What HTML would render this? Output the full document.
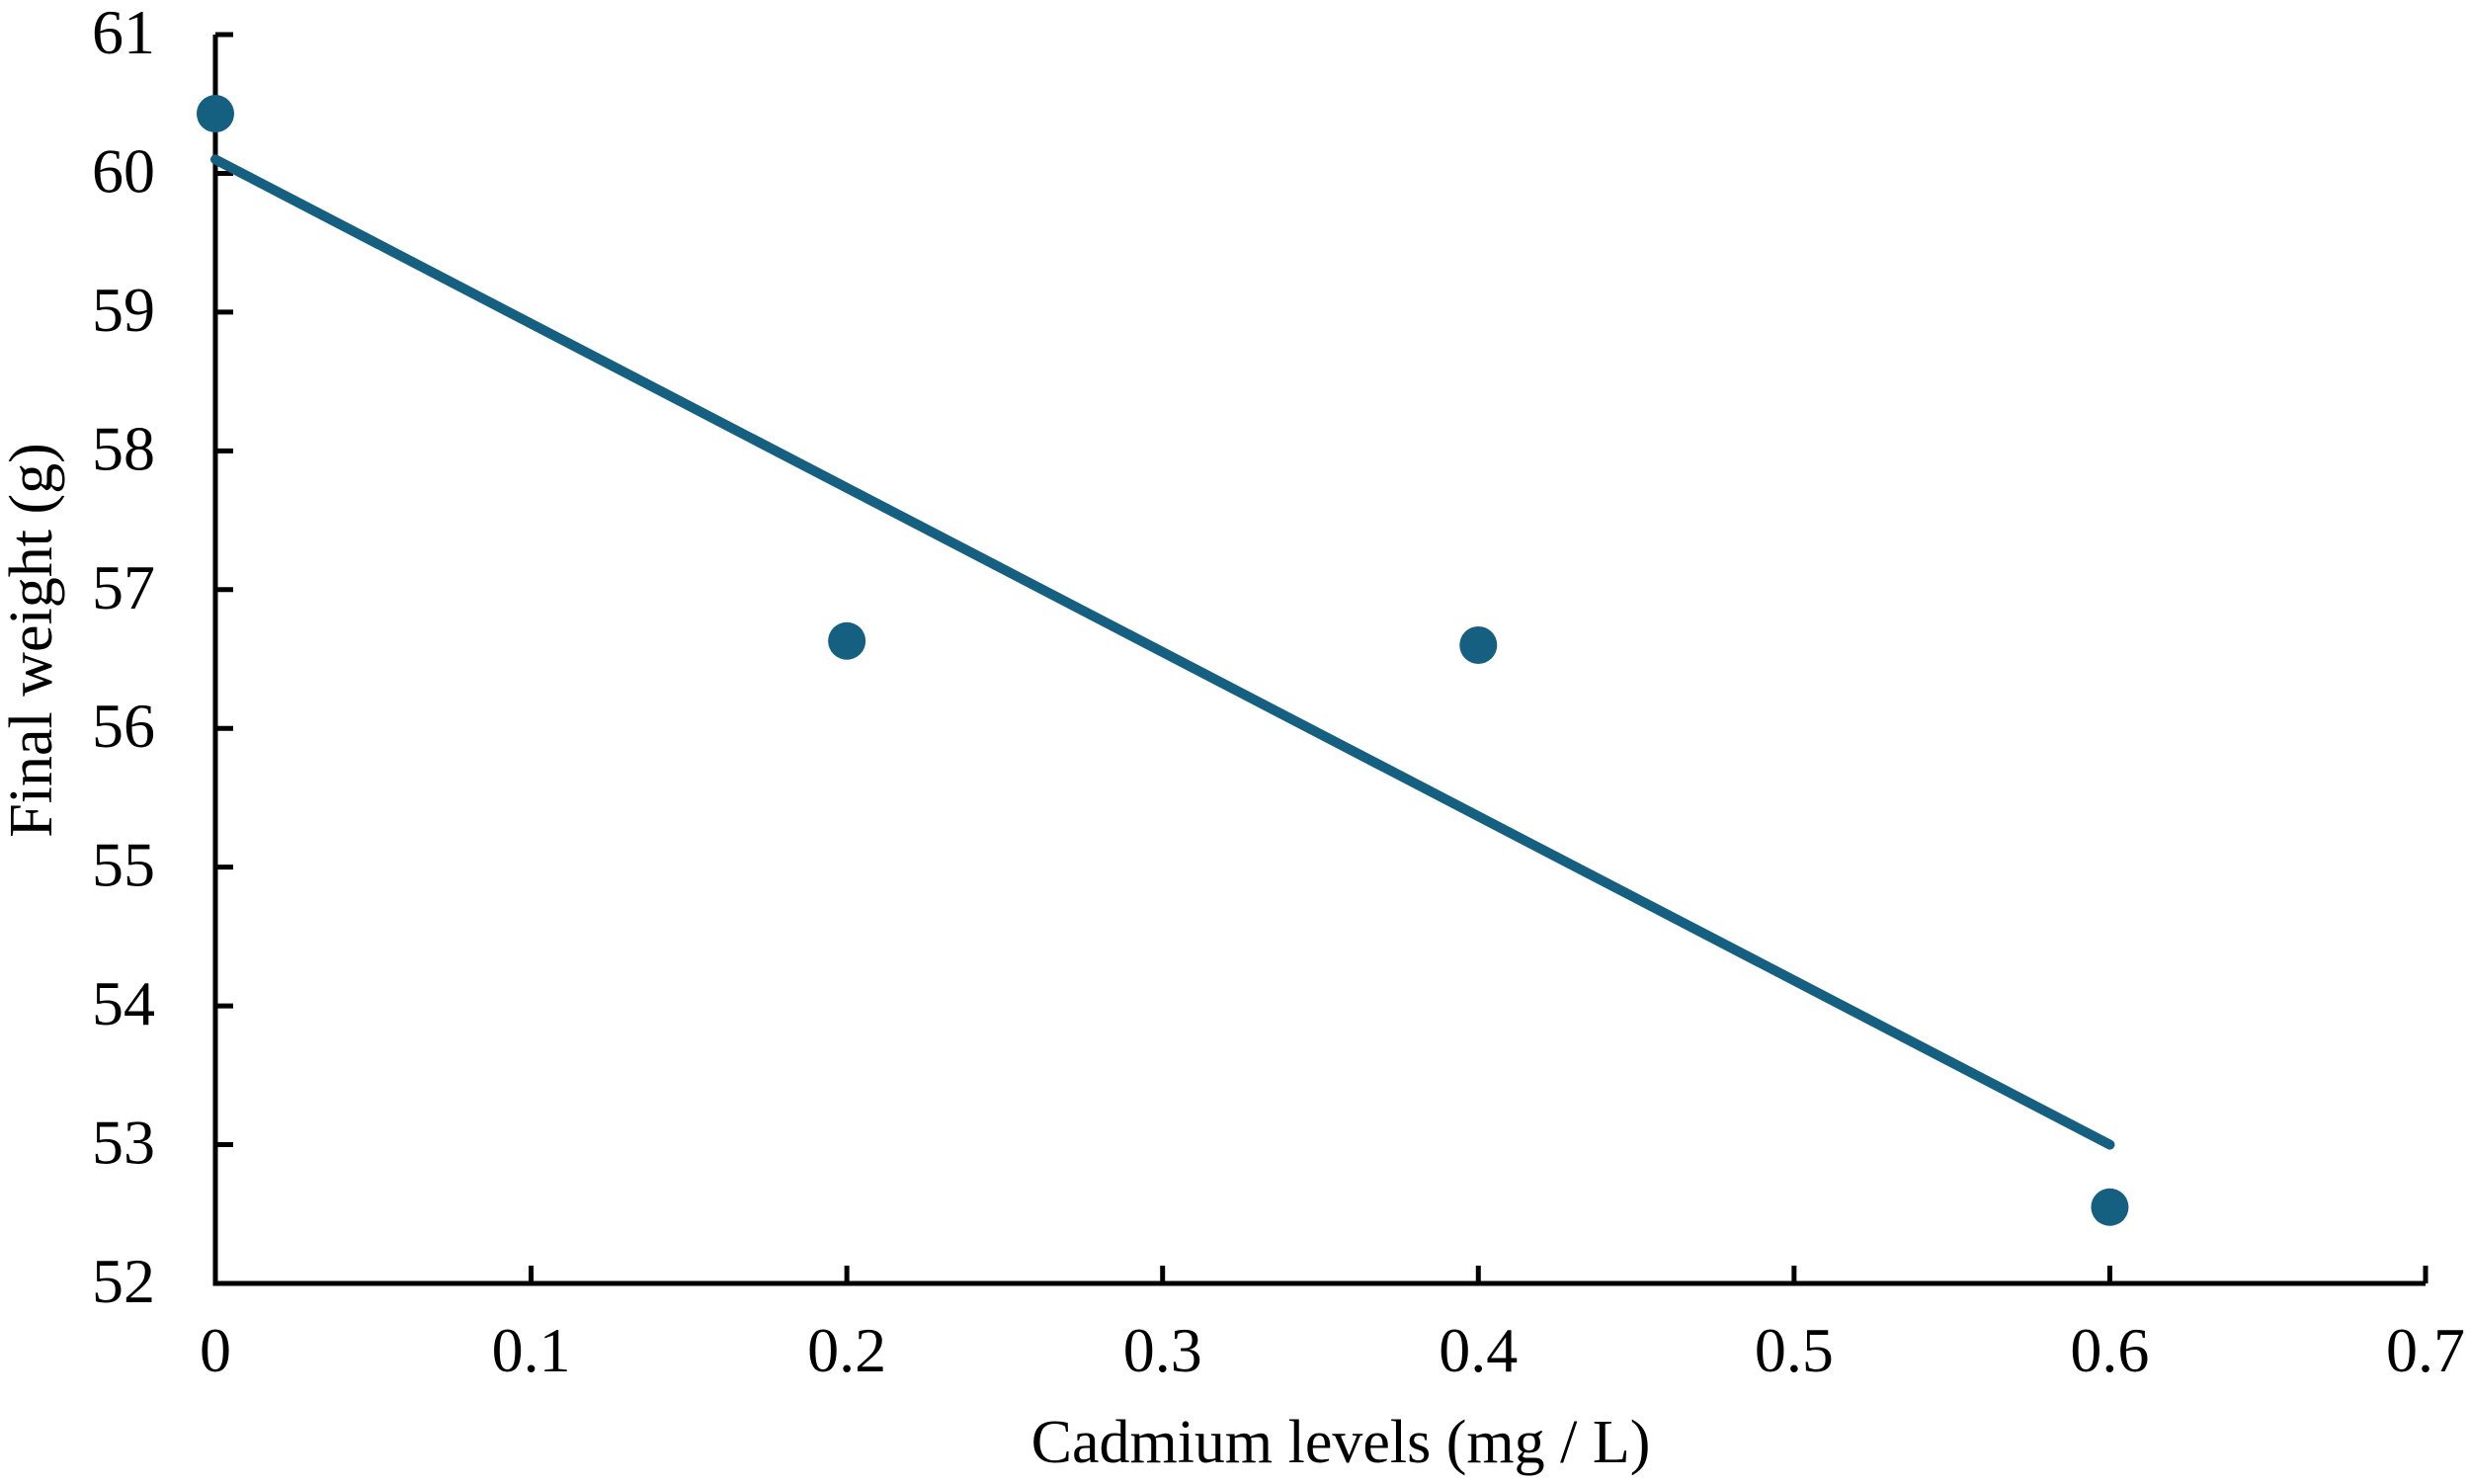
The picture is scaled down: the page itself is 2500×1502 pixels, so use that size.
<!DOCTYPE html>
<html><head><meta charset="utf-8"><style>
html,body{margin:0;padding:0;background:#fff}
svg{display:block;font-family:"Liberation Serif",serif}
</style></head><body>
<svg id="chart" width="2500" height="1502" viewBox="0 0 2500 1502">
<g id="axes"></g>
<g id="marks"></g>
<text x="1357" y="1480" font-size="62" text-anchor="middle">Cadmium levels (mg / L)</text>
<text transform="translate(52,648) rotate(-90)" font-size="62" text-anchor="middle">Final weight (g)</text>
</svg>
<script>
const xTicks=[0,0.1,0.2,0.3,0.4,0.5,0.6,0.7];
const xTickLabels=["0","0.1","0.2","0.3","0.4","0.5","0.6","0.7"];
const yTicks=[52,53,54,55,56,57,58,59,60,61];
const yTickLabels=["52","53","54","55","56","57","58","59","60","61"];
const cadmium=[0,0.2,0.4,0.6];
const weight=[60.43,56.63,56.60,52.55];
const trendX=[0,0.6];
const trendY=[60.1,53.0];
const NS="http://www.w3.org/2000/svg";
const X0=218,X1=2455,Y0=1299,Y1=35;
const xs=v=>X0+(v-0)/(0.7-0)*(X1-X0);
const ys=v=>Y0-(v-52)/(61-52)*(Y0-Y1);
function mk(tag,attrs,parent){const e=document.createElementNS(NS,tag);for(const k in attrs)e.setAttribute(k,attrs[k]);parent.appendChild(e);return e;}
const axes=document.getElementById('axes'),marks=document.getElementById('marks');
let e=mk('path',{d:`M${X0},${Y1} V${Y0} H${X1}`,stroke:'#000','stroke-width':5,fill:'none'},axes);


yTicks.forEach((v,i)=>{
 let t=mk('line',{x1:X0,x2:X0+18,y1:ys(v),y2:ys(v),stroke:'#000','stroke-width':5},axes);
 
 
 let l=mk('text',{x:157,y:ys(v)+19,'font-size':64,'text-anchor':'end'},axes);
 l.textContent=yTickLabels[i];
 
 
});
xTicks.forEach((v,i)=>{
 let t=mk('line',{x1:xs(v),x2:xs(v),y1:Y0,y2:Y0-18,stroke:'#000','stroke-width':5},axes);
 
 
 let l=mk('text',{x:xs(v),y:1388,'font-size':64,'text-anchor':'middle'},axes);
 l.textContent=xTickLabels[i];
 
 
});
let tl=mk('line',{x1:xs(trendX[0]),y1:ys(trendY[0]),x2:xs(trendX[1]),y2:ys(trendY[1]),stroke:'#155f80','stroke-width':10,'stroke-linecap':'round'},marks);


cadmium.forEach((c,i)=>{
 let p=mk('circle',{cx:xs(c),cy:ys(weight[i]),r:19,fill:'#155f80'},marks);
 
 
});
</script>
</body></html>
